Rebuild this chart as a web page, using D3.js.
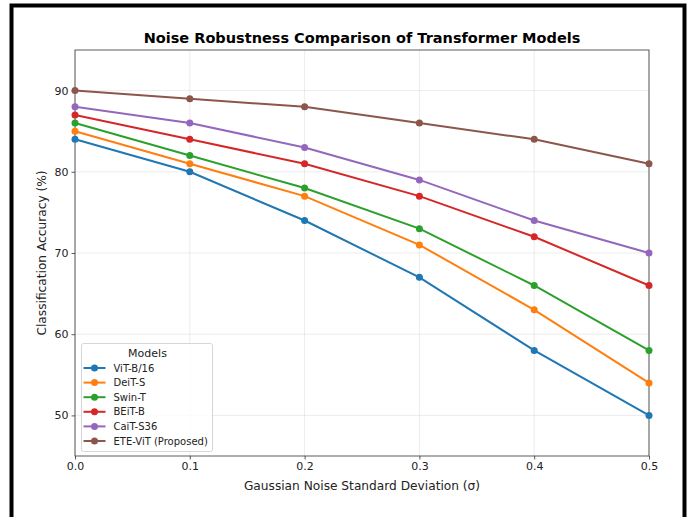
<!DOCTYPE html>
<html>
<head>
<meta charset="utf-8">
<script src="https://cdn.jsdelivr.net/npm/d3@7"></script>
<style>
  body { margin: 0; background: #fff; }
  svg text { font-family: "DejaVu Sans", sans-serif; }
</style>
</head>
<body>
<div id="chart"></div>
<script>
// data
const noiseLevels = [0.0, 0.1, 0.2, 0.3, 0.4, 0.5];
const modelNames = ["ViT-B/16", "DeiT-S", "Swin-T", "BEiT-B", "CaiT-S36", "ETE-ViT (Proposed)"];
const vitB16 = [84, 80, 74, 67, 58, 50];
const deitS = [85, 81, 77, 71, 63, 54];
const swinT = [86, 82, 78, 73, 66, 58];
const beitB = [87, 84, 81, 77, 72, 66];
const caitS36 = [88, 86, 83, 79, 74, 70];
const eteVit = [90, 89, 88, 86, 84, 81];
const xTicks = [0.0, 0.1, 0.2, 0.3, 0.4, 0.5];
const yTicks = [50, 60, 70, 80, 90];
const colors = ["#1f77b4", "#ff7f0e", "#2ca02c", "#d62728", "#9467bd", "#8c564b"];

const allSeries = [vitB16, deitS, swinT, beitB, caitS36, eteVit];

let W = 688, H = 517,
    margin = {top: 50, left: 75, right: 39, bottom: 61},
    width = W - margin.left - margin.right,
    height = H - margin.top - margin.bottom;

let svg = d3.select("#chart").append("svg")
    .attr("width", W)
    .attr("height", H);

// outer black frame
svg.append("rect")
    .attr("x", 11.5).attr("y", 5.5)
    .attr("width", 673).attr("height", 520)
    .attr("fill", "none")
    .attr("stroke", "#000")
    .attr("stroke-width", 4);

let xScale = d3.scaleLinear().domain([0, 0.5]).range([0, width]);
let yScale = d3.scaleLinear().domain([45, 95]).range([height, 0]);

let g = svg.append("g")
    .attr("transform", "translate(" + margin.left + "," + margin.top + ")");

// grid
g.append("g").selectAll("line")
    .data(xTicks)
    .join("line")
    .attr("x1", d => xScale(d)).attr("x2", d => xScale(d))
    .attr("y1", 0).attr("y2", height)
    .attr("stroke", "#b0b0b0").attr("stroke-opacity", 0.3).attr("stroke-width", 0.8);
g.append("g").selectAll("line")
    .data(yTicks)
    .join("line")
    .attr("y1", d => yScale(d)).attr("y2", d => yScale(d))
    .attr("x1", 0).attr("x2", width)
    .attr("stroke", "#b0b0b0").attr("stroke-opacity", 0.3).attr("stroke-width", 0.8);

// axes
let xAxis = g.append("g")
    .attr("transform", "translate(0," + height + ")")
    .call(d3.axisBottom(xScale).tickValues(xTicks).tickFormat(d3.format(".1f")).tickSize(3.5).tickPadding(3));
let yAxis = g.append("g")
    .call(d3.axisLeft(yScale).tickValues(yTicks).tickSize(3.5).tickPadding(3));

[xAxis, yAxis].forEach(ax => {
  ax.select(".domain").remove();
  ax.selectAll(".tick line").attr("stroke", "#333").attr("stroke-width", 0.8);
  ax.selectAll("text").attr("font-size", 11).attr("fill", "#222")
    .style("font-family", "DejaVu Sans, sans-serif");
});

// frame of plot area
g.append("rect")
    .attr("width", width).attr("height", height)
    .attr("fill", "none").attr("stroke", "#333").attr("stroke-width", 0.8);

// lines + markers
let line = d3.line()
    .x((d, i) => xScale(noiseLevels[i]))
    .y(d => yScale(d));

allSeries.forEach((vals, k) => {
  g.append("path")
      .datum(vals)
      .attr("d", line)
      .attr("fill", "none")
      .attr("stroke", colors[k])
      .attr("stroke-width", 2);
  g.append("g").selectAll("circle")
      .data(vals)
      .join("circle")
      .attr("cx", (d, i) => xScale(noiseLevels[i]))
      .attr("cy", d => yScale(d))
      .attr("r", 3.5)
      .attr("fill", colors[k]);
});

// title and labels
svg.append("text")
    .attr("x", margin.left + width / 2).attr("y", 43)
    .attr("text-anchor", "middle")
    .attr("font-size", 14.5).attr("font-weight", "bold")
    .attr("fill", "#000")
    .text("Noise Robustness Comparison of Transformer Models");

svg.append("text")
    .attr("x", margin.left + width / 2).attr("y", 490)
    .attr("text-anchor", "middle")
    .attr("font-size", 12.2).attr("fill", "#222")
    .text("Gaussian Noise Standard Deviation (σ)");

svg.append("text")
    .attr("transform", "translate(46," + (margin.top + height / 2) + ") rotate(-90)")
    .attr("text-anchor", "middle")
    .attr("font-size", 12.2).attr("fill", "#222")
    .text("Classification Accuracy (%)");

// legend
let lg = g.append("g").attr("transform", "translate(6.5," + (343 - margin.top + 0.5) + ")");
lg.append("rect")
    .attr("width", 131).attr("height", 108)
    .attr("rx", 2)
    .attr("fill", "#fff").attr("fill-opacity", 0.8)
    .attr("stroke", "#ccc").attr("stroke-width", 0.8);
lg.append("text")
    .attr("x", 66).attr("y", 13)
    .attr("text-anchor", "middle")
    .attr("font-size", 11).attr("fill", "#222")
    .text("Models");
modelNames.forEach((name, k) => {
  let yy = 24.5 + k * 14.6;
  lg.append("line")
      .attr("x1", 2).attr("x2", 24)
      .attr("y1", yy).attr("y2", yy)
      .attr("stroke", colors[k]).attr("stroke-width", 2);
  lg.append("circle")
      .attr("cx", 13).attr("cy", yy).attr("r", 3.5)
      .attr("fill", colors[k]);
  lg.append("text")
      .attr("x", 32).attr("y", yy + 3.5)
      .attr("font-size", 10).attr("fill", "#222")
      .text(name);
});
</script>
</body>
</html>
